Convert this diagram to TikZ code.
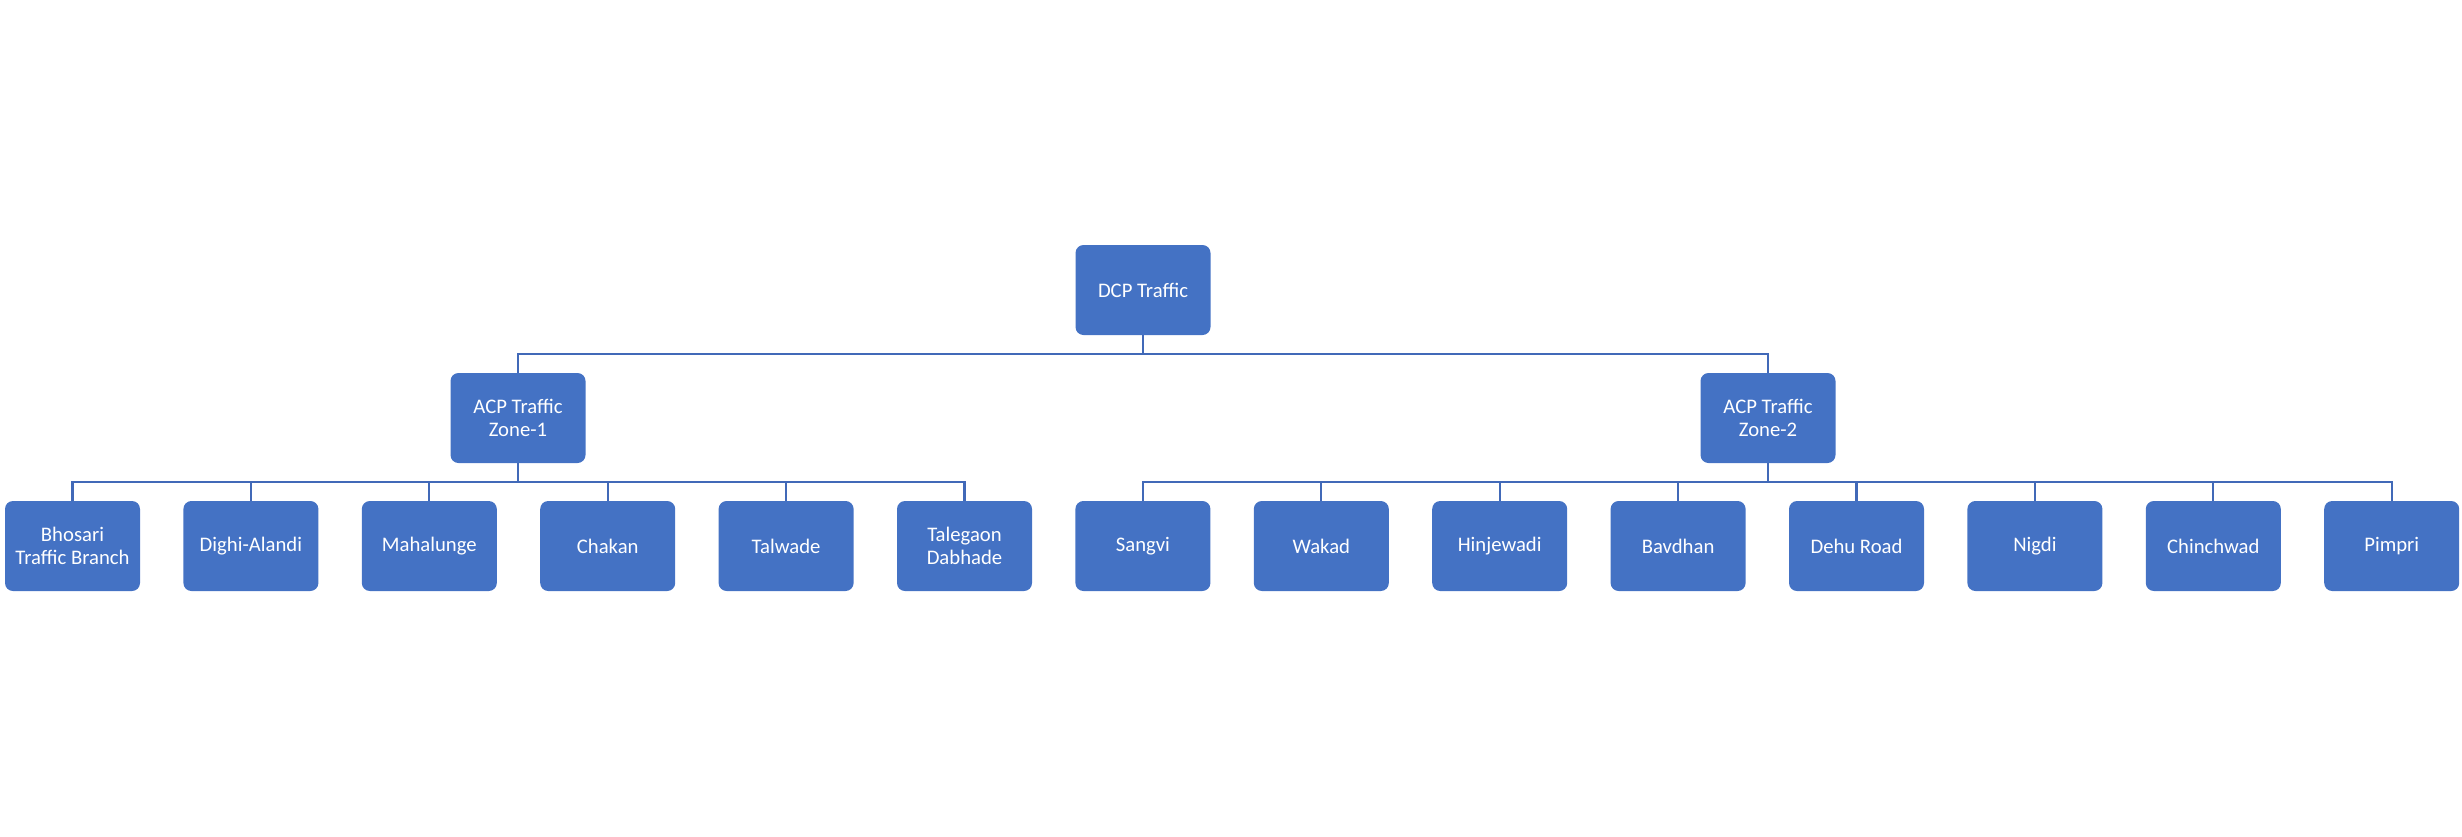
\documentclass[tikz,border=0pt]{standalone}
\usepackage{fontspec}
\setmainfont{Carlito}
\definecolor{boxblue}{HTML}{4472C4}
\definecolor{lineblue}{HTML}{4169B8}
\begin{document}
\begin{tikzpicture}[x=1pt,y=-1pt,
  box/.style={fill=boxblue, rounded corners=8pt, minimum width=135pt, minimum height=90pt,
    text=white, align=center, inner sep=0pt, font=\fontsize{20.7}{23}\selectfont},
  conn/.style={draw=lineblue, line width=2.2pt}]
\useasboundingbox (0,0) rectangle (2462,836);
\node[box] (dcp) at (1143,290) {DCP Traffic};
\node[box] (acp1) at (518,418) {ACP Traffic\\Zone-1};
\node[box] (acp2) at (1768,418) {ACP Traffic\\Zone-2};
\foreach \i/\t in {0/{Bhosari\\Traffic Branch},1/Dighi-Alandi,2/Mahalunge,3/Chakan,4/Talwade,5/{Talegaon\\Dabhade},
  6/Sangvi,7/Wakad,8/Hinjewadi,9/Bavdhan,10/Dehu Road,11/Nigdi,12/Chinchwad,13/Pimpri}
  \node[box] (c\i) at ({72.5+178.4*\i},546) {\t};
% top level
\draw[conn] (dcp.south) -- (dcp.south |- 0,354);
\draw[conn] (acp1.north) -- (acp1.north |- 0,354) -- (acp2.north |- 0,354) -- (acp2.north);
% zone 1
\draw[conn] (acp1.south) -- (acp1.south |- 0,482);
\draw[conn] (c0.north) -- (c0.north |- 0,482) -- (c5.north |- 0,482) -- (c5.north);
\foreach \i in {1,...,4} \draw[conn] (c\i.north) -- (c\i.north |- 0,482);
% zone 2
\draw[conn] (acp2.south) -- (acp2.south |- 0,482);
\draw[conn] (c6.north) -- (c6.north |- 0,482) -- (c13.north |- 0,482) -- (c13.north);
\foreach \i in {7,...,12} \draw[conn] (c\i.north) -- (c\i.north |- 0,482);
\end{tikzpicture}
\end{document}
